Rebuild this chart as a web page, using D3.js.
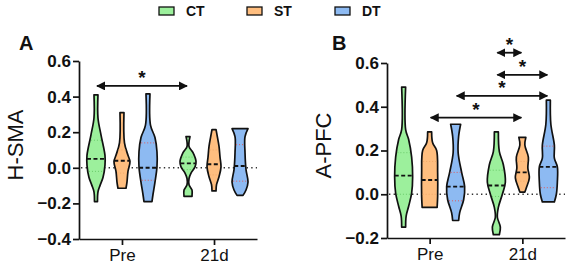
<!DOCTYPE html>
<html>
<head>
<meta charset="utf-8">
<script src="https://cdn.jsdelivr.net/npm/d3@7"></script>
<style>
  body { margin: 0; background: #fff; }
  svg { font-family: "Liberation Sans", Arial, sans-serif; }
</style>
</head>
<body>
<svg id="chart" width="567" height="271"></svg>
<script>
// categories and groups
var groups = ['Pre', '21d'];
var series = ['CT', 'ST', 'DT'];
var colors = { CT: '#9cf09c', ST: '#ffbe7f', DT: '#8dbaf2' };
var quartColors = { CT: '#6acb6a', ST: '#f0a868', DT: '#e05a5a' };

// violin outlines: [value, relative half width]
var hsmaProfiles = {
  'Pre|CT': [[0.41, 0.2], [0.28, 0.2], [0.185, 0.5], [0.07, 0.9], [0.015, 0.9], [-0.055, 0.7], [-0.1, 0.4], [-0.135, 0.2], [-0.19, 0.15]],
  'Pre|ST': [[0.31, 0.2], [0.14, 0.25], [0.07, 0.6], [0.035, 0.8], [-0.02, 0.6], [-0.08, 0.5], [-0.115, 0.4]],
  'Pre|DT': [[0.415, 0.2], [0.24, 0.25], [0.17, 0.7], [0.09, 0.9], [0.005, 0.9], [-0.08, 0.7], [-0.15, 0.5], [-0.19, 0.4]],
  '21d|CT': [[0.175, 0.2], [0.12, 0.1], [0.085, 0.5], [0.035, 0.8], [0.005, 0.7], [-0.03, 0.3], [-0.06, 0.1], [-0.095, 0.1], [-0.125, 0.4], [-0.16, 0.4]],
  '21d|ST': [[0.215, 0.2], [0.185, 0.3], [0.12, 0.5], [0.06, 0.6], [0.005, 0.7], [-0.05, 0.5], [-0.095, 0.25], [-0.13, 0.2]],
  '21d|DT': [[0.22, 0.8], [0.175, 0.5], [0.085, 0.5], [-0.01, 0.6], [-0.08, 0.8], [-0.125, 0.6], [-0.155, 0.3]]
};
var apfcProfiles = {
  'Pre|CT': [[0.49, 0.2], [0.295, 0.2], [0.25, 0.5], [0.17, 0.8], [0.08, 0.9], [0.005, 0.8], [-0.055, 0.5], [-0.1, 0.25], [-0.15, 0.2]],
  'Pre|ST': [[0.285, 0.2], [0.235, 0.3], [0.2, 0.7], [0.1, 0.8], [-0.01, 0.8], [-0.06, 0.75]],
  'Pre|DT': [[0.32, 0.5], [0.265, 0.3], [0.19, 0.25], [0.1, 0.6], [0.035, 0.9], [-0.025, 0.8], [-0.085, 0.4], [-0.12, 0.3]],
  '21d|CT': [[0.285, 0.2], [0.195, 0.3], [0.135, 0.7], [0.055, 0.9], [0.0, 0.6], [-0.06, 0.2], [-0.105, 0.1], [-0.15, 0.4], [-0.185, 0.3]],
  '21d|ST': [[0.26, 0.35], [0.225, 0.25], [0.17, 0.6], [0.12, 0.55], [0.075, 0.7], [0.03, 0.4], [0.01, 0.25]],
  '21d|DT': [[0.43, 0.2], [0.32, 0.25], [0.225, 0.6], [0.165, 0.6], [0.125, 0.9], [0.055, 0.9], [0.0, 0.8], [-0.035, 0.6]]
};

// medians and quartiles [q1, q3]
var hsmaMedians = { 'Pre|CT': 0.05, 'Pre|ST': 0.04, 'Pre|DT': 0.0, '21d|CT': 0.025, '21d|ST': 0.02, '21d|DT': 0.01 };
var hsmaQuartiles = { 'Pre|CT': [-0.02, 0.155], 'Pre|ST': [-0.03, 0.1], 'Pre|DT': [-0.07, 0.14], '21d|CT': [-0.01, 0.06], '21d|ST': [-0.04, 0.1], '21d|DT': [-0.075, 0.13] };
var apfcMedians = { 'Pre|CT': 0.085, 'Pre|ST': 0.065, 'Pre|DT': 0.035, '21d|CT': 0.04, '21d|ST': 0.1, '21d|DT': 0.125 };
var apfcQuartiles = { 'Pre|CT': [0.0, 0.19], 'Pre|ST': [0.0, 0.15], 'Pre|DT': [-0.03, 0.1], '21d|CT': [-0.01, 0.11], '21d|ST': [0.06, 0.15], '21d|DT': [0.03, 0.22] };

// significance brackets: from, to, value level
var hsmaSig = [{ from: 'Pre|CT', to: '21d|CT', level: 0.46 }];
var apfcSig = [
  { from: 'Pre|ST', to: '21d|ST', level: 0.35 },
  { from: 'Pre|DT', to: '21d|DT', level: 0.45 },
  { from: '21d|CT', to: '21d|DT', level: 0.546 },
  { from: '21d|CT', to: '21d|ST', level: 0.647 }
];

var hsmaTicks = [-0.4, -0.2, 0.0, 0.2, 0.4, 0.6];
var apfcTicks = [-0.2, 0.0, 0.2, 0.4, 0.6];

var svg = d3.select('#chart');

// arrow heads
var defs = svg.append('defs');
['end', 'start'].forEach(function(k) {
  defs.append('marker')
    .attr('id', 'arr-' + k)
    .attr('viewBox', '0 0 10 10')
    .attr('refX', k == 'end' ? 9 : 1).attr('refY', 5)
    .attr('markerWidth', 5).attr('markerHeight', 5)
    .attr('markerUnits', 'strokeWidth')
    .attr('orient', 'auto')
    .append('path')
    .attr('d', k == 'end' ? 'M0,0L10,5L0,10z' : 'M10,0L0,5L10,10z')
    .attr('fill', '#111');
});

function halfAt(profile, v) {
  for (var i = 0; i < profile.length - 1; i++) {
    var a = profile[i], b = profile[i + 1];
    if (v <= a[0] && v >= b[0]) {
      var t = (a[0] - v) / (a[0] - b[0]);
      return a[1] + t * (b[1] - a[1]);
    }
  }
  return 0;
}

function panel(opt) {
  var g = svg.append('g');
  var y = d3.scaleLinear().domain(opt.domain).range([opt.bottom, opt.top]);
  var x = d3.scalePoint().domain(groups).range([opt.left, opt.right]).padding(opt.pad);
  var xs = d3.scalePoint().domain(series).range([-26, 26]);
  var w = d3.scaleLinear().domain([0, 1]).range([0, 10]);

  function cx(key) {
    var p = key.split('|');
    return x(p[0]) + xs(p[1]);
  }

  // zero reference line
  g.append('line')
    .attr('x1', opt.left + 2).attr('x2', opt.right)
    .attr('y1', y(0)).attr('y2', y(0))
    .attr('stroke', '#333').attr('stroke-width', 1.5)
    .attr('stroke-dasharray', '1.4,3.2');

  var area = d3.area()
    .y(function(d) { return y(d[0]); })
    .curve(d3.curveCatmullRom.alpha(0.5));

  groups.forEach(function(gr) {
    series.forEach(function(s) {
      var key = gr + '|' + s;
      var prof = opt.profiles[key];
      var c = cx(key);
      area.x0(function(d) { return c - w(d[1]); })
          .x1(function(d) { return c + w(d[1]); });
      g.append('path')
        .datum(prof)
        .attr('d', area)
        .attr('fill', colors[s])
        .attr('stroke', '#111')
        .attr('stroke-width', 1.7)
        .attr('stroke-linejoin', 'round');

      // quartiles
      opt.quartiles[key].forEach(function(q) {
        var hw = w(halfAt(prof, q));
        g.append('line')
          .attr('x1', c - hw + 1).attr('x2', c + hw - 1)
          .attr('y1', y(q)).attr('y2', y(q))
          .attr('stroke', quartColors[s]).attr('stroke-width', 1)
          .attr('stroke-dasharray', '1,2');
      });

      // median
      var mh = w(halfAt(prof, opt.medians[key]));
      g.append('line')
        .attr('x1', c - mh).attr('x2', c + mh)
        .attr('y1', y(opt.medians[key])).attr('y2', y(opt.medians[key]))
        .attr('stroke', '#111').attr('stroke-width', 1.9)
        .attr('stroke-dasharray', '4,2.5');
    });
  });

  // y axis
  var yAxis = g.append('g')
    .attr('transform', 'translate(' + opt.left + ',0)')
    .call(d3.axisLeft(y).tickValues(opt.ticks).tickFormat(d3.format('.1f')).tickSize(6).tickSizeOuter(0));
  yAxis.select('.domain').attr('stroke', '#111').attr('stroke-width', 1.7);
  yAxis.selectAll('.tick line').attr('stroke', '#111').attr('stroke-width', 1.7);
  yAxis.selectAll('.tick text')
    .attr('x', -8)
    .attr('font-size', 17).attr('font-weight', 'bold')
    .attr('font-family', '"Liberation Sans", Arial, sans-serif')
    .attr('fill', '#111');

  // x axis
  var xAxis = g.append('g')
    .attr('transform', 'translate(0,' + opt.bottom + ')')
    .call(d3.axisBottom(x).tickSize(6).tickSizeOuter(0));
  xAxis.select('.domain').attr('stroke', '#111').attr('stroke-width', 1.7);
  xAxis.selectAll('.tick line').attr('stroke', '#111').attr('stroke-width', 1.7);
  xAxis.selectAll('.tick text')
    .attr('y', 10)
    .attr('font-size', 17)
    .attr('font-family', '"Liberation Sans", Arial, sans-serif')
    .attr('fill', '#111');

  // axis title
  g.append('text')
    .attr('transform', 'translate(' + opt.titleX + ',' + ((opt.top + opt.bottom) / 2 - 5) + ') rotate(-90)')
    .attr('text-anchor', 'middle')
    .attr('font-size', 22)
    .attr('fill', '#111')
    .text(opt.title);

  // panel letter
  g.append('text')
    .attr('x', opt.letterX).attr('y', opt.letterY)
    .attr('font-size', 20).attr('font-weight', 'bold')
    .attr('fill', '#111')
    .text(opt.letter);

  // significance arrows
  opt.sig.forEach(function(s) {
    var x1 = cx(s.from), x2 = cx(s.to);
    g.append('line')
      .attr('x1', x1 + 1).attr('x2', x2 - 1)
      .attr('y1', y(s.level)).attr('y2', y(s.level))
      .attr('stroke', '#111').attr('stroke-width', 1.8)
      .attr('marker-start', 'url(#arr-start)')
      .attr('marker-end', 'url(#arr-end)');
    g.append('text')
      .attr('x', (x1 + x2) / 2).attr('y', y(s.level) - 2)
      .attr('text-anchor', 'middle')
      .attr('font-size', 19).attr('font-weight', 'bold')
      .attr('fill', '#111')
      .text('*');
  });
}

panel({
  domain: [-0.4, 0.6], ticks: hsmaTicks, top: 61, bottom: 239, left: 79, right: 257, pad: 0.467,
  profiles: hsmaProfiles, medians: hsmaMedians, quartiles: hsmaQuartiles, sig: hsmaSig,
  title: 'H-SMA', titleX: 23, letter: 'A', letterX: 19, letterY: 50
});
panel({
  domain: [-0.2, 0.6], ticks: apfcTicks, top: 63, bottom: 238, left: 387, right: 565, pad: 0.46,
  profiles: apfcProfiles, medians: apfcMedians, quartiles: apfcQuartiles, sig: apfcSig,
  title: 'A-PFC', titleX: 331, letter: 'B', letterX: 332, letterY: 50
});

// legend
var legend = svg.append('g');
var lx = d3.scalePoint().domain(series).range([159, 335]);
series.forEach(function(s) {
  legend.append('rect')
    .attr('x', lx(s)).attr('y', 7)
    .attr('width', 15).attr('height', 8)
    .attr('fill', colors[s]).attr('stroke', '#111').attr('stroke-width', 1.3);
  legend.append('text')
    .attr('x', lx(s) + 27).attr('y', 16)
    .attr('font-size', 14).attr('font-weight', 'bold')
    .attr('fill', '#111')
    .text(s);
});
</script>
</body>
</html>
